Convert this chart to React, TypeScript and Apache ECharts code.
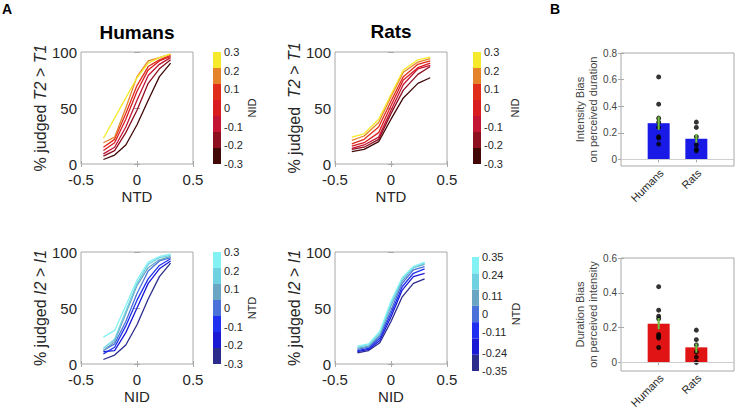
import React, { useEffect, useRef } from "react";
import * as echarts from "echarts";

// ---------- data ----------
const xHum = [-0.3, -0.2, -0.1, 0, 0.1, 0.2, 0.3];
const xRatDur = [-0.35, -0.24, -0.11, 0, 0.11, 0.24, 0.35];
const xRatInt = [-0.3, -0.2, -0.1, 0, 0.1, 0.2, 0.3];

const nidLevels = [0.3, 0.2, 0.1, 0, -0.1, -0.2, -0.3];
const ntdLevelsHum = [0.3, 0.2, 0.1, 0, -0.1, -0.2, -0.3];
const ntdLevelsRat = [0.35, 0.24, 0.11, 0, -0.11, -0.24, -0.35];

// % judged T2 > T1, humans, one row per NID level (0.3 ... -0.3)
const humDur = [
  [23, 41, 59, 77, 90, 95, 98],
  [19, 24, 50, 78, 92, 95, 98],
  [15, 22, 45, 70, 87, 93, 97],
  [12, 19, 40, 65, 84, 92, 96],
  [9, 15, 33, 57, 79, 89, 95],
  [7, 12, 28, 48, 72, 85, 93],
  [4, 8, 17, 35, 57, 78, 90],
];
// % judged T2 > T1, rats
const ratDur = [
  [24, 27, 40, 62, 84, 93, 95.5],
  [21, 25, 37, 60, 82, 91, 94],
  [18, 22, 33, 56, 78, 89, 92],
  [16, 19, 28, 52, 75, 86, 90],
  [14, 17, 24, 48, 71, 85, 88],
  [13, 15, 22, 45, 66, 80, 87],
  [11, 13, 20, 40, 59, 72, 77],
];
// % judged I2 > I1, humans, one row per NTD level
const humInt = [
  [24, 30, 52, 75, 91, 96, 98],
  [14, 22, 47, 72, 89, 95, 97],
  [12, 20, 45, 70, 86, 93, 96],
  [12, 18, 38, 63, 83, 92, 95],
  [9, 15, 34, 57, 76, 88, 94],
  [11, 12, 28, 50, 72, 85, 92],
  [4, 8, 17, 35, 58, 78, 90],
];
// % judged I2 > I1, rats
const ratInt = [
  [16, 18, 29, 56, 77, 87, 91],
  [15, 17, 28, 54, 76, 86, 90],
  [14, 16, 26, 52, 74, 86, 89],
  [13, 15, 25, 48, 72, 84, 87],
  [12, 14, 23, 45, 69, 81, 85],
  [11, 13, 21, 42, 66, 78, 81],
  [10, 12, 19, 38, 60, 72, 76],
];

const warmColors = ["#f5ea2c", "#e5832a", "#e02c1a", "#d81c20", "#c41434", "#8e1020", "#420808"];
const coolColors = ["#82f2f4", "#70d2e0", "#6aa6c4", "#4a72d8", "#1f30f0", "#1a1ad4", "#2c2c8c"];

const groups = ["Humans", "Rats"];
const groupPos = [1, 2];
// panel B top: intensity bias on perceived duration
const intBiasMean = [0.272, 0.155];
const intBiasLow = [0.222, 0.125];
const intBiasHigh = [0.322, 0.19];
const intBiasHum = [0.62, 0.415, 0.31, 0.28, 0.24, 0.17, 0.16, 0.115];
const intBiasRat = [0.28, 0.24, 0.17, 0.11, 0.075, 0.065];
// panel B bottom: duration bias on perceived intensity
const durBiasMean = [0.222, 0.086];
const durBiasLow = [0.19, 0.055];
const durBiasHigh = [0.255, 0.108];
const durBiasHum = [0.435, 0.3, 0.265, 0.25, 0.16, 0.15, 0.14, 0.085];
const durBiasRat = [0.185, 0.13, 0.1, 0.06, 0.03, 0.0];

const yTicksTop = [0, 0.2, 0.4, 0.6, 0.8];
const yTicksBottom = [0, 0.2, 0.4, 0.6];
const yMinBar = -0.05;

// ---------- styling ----------
const FONT = "'Liberation Sans', Arial, Helvetica, sans-serif";
const BOX = "#a8a8a8";
const TXT = "#262626";

export default function App() {
  const ref = useRef<HTMLDivElement>(null);

  useEffect(() => {
    if (!ref.current) return;
    const chart = echarts.init(ref.current, null, { renderer: "svg" });

    const grid: any[] = [];
    const xAxis: any[] = [];
    const yAxis: any[] = [];
    const series: any[] = [];
    const barAxes: { xi: number; yi: number }[] = [];

    const fmt = (v: number) => String(Math.round(v * 100) / 100);

    // ---- psychometric panels ----
    const addLinePanel = (
      left: number,
      top: number,
      xs: number[],
      rows: number[][],
      colors: string[],
      xName: string,
      yName: string,
      yGap: number
    ) => {
      const gi = grid.length;
      grid.push({ left, top, width: 112, height: 112, show: true, borderColor: BOX, borderWidth: 1, backgroundColor: "#fff" });
      const tick = { show: true, inside: true, length: 3, lineStyle: { color: BOX } };
      const xi = xAxis.length;
      xAxis.push({
        gridIndex: gi, type: "value", min: -0.5, max: 0.5, interval: 0.5, position: "bottom",
        axisLine: { show: false }, axisTick: tick, splitLine: { show: false },
        axisLabel: { fontSize: 15, color: TXT, fontFamily: FONT, margin: 8, formatter: fmt },
        name: xName, nameLocation: "middle", nameGap: 25,
        nameTextStyle: { fontSize: 15, color: TXT, fontFamily: FONT },
      });
      xAxis.push({
        gridIndex: gi, type: "value", min: -0.5, max: 0.5, interval: 0.5, position: "top",
        axisLine: { show: false }, axisTick: tick, splitLine: { show: false }, axisLabel: { show: false },
      });
      const yi = yAxis.length;
      yAxis.push({
        gridIndex: gi, type: "value", min: 0, max: 100, interval: 50, position: "left",
        axisLine: { show: false }, axisTick: tick, splitLine: { show: false },
        axisLabel: { fontSize: 15, color: TXT, fontFamily: FONT, margin: 4 },
        name: yName, nameLocation: "middle", nameGap: yGap, nameRotate: 90,
        nameTextStyle: {
          fontSize: 16, color: TXT, fontFamily: FONT,
          rich: { i: { fontSize: 16, fontStyle: "italic", color: TXT, fontFamily: FONT } },
        },
      });
      yAxis.push({
        gridIndex: gi, type: "value", min: 0, max: 100, interval: 50, position: "right",
        axisLine: { show: false }, axisTick: tick, splitLine: { show: false }, axisLabel: { show: false },
      });
      for (let i = rows.length - 1; i >= 0; i--) {
        series.push({
          type: "line", xAxisIndex: xi, yAxisIndex: yi, showSymbol: false, symbol: "none",
          data: xs.map((x, j) => [x, rows[i][j]]),
          lineStyle: { color: colors[i], width: 1.3 }, itemStyle: { color: colors[i] },
          silent: true,
        });
      }
    };

    // ---- colorbars ----
    const addColorbar = (
      left: number, top: number, width: number, height: number,
      levels: number[], colors: string[], name: string, nameGap: number
    ) => {
      const gi = grid.length;
      grid.push({ left, top, width, height });
      const xi = xAxis.length;
      xAxis.push({ gridIndex: gi, type: "category", data: ["c"], show: false, boundaryGap: true });
      const yHidden = yAxis.length;
      yAxis.push({ gridIndex: gi, type: "value", min: 0, max: levels.length, show: false, position: "left" });
      const lo = Math.min(...levels);
      const hi = Math.max(...levels);
      yAxis.push({
        gridIndex: gi, type: "value", min: lo, max: hi, position: "right",
        axisLine: { show: false }, axisTick: { show: false }, splitLine: { show: false },
        axisLabel: { customValues: levels, fontSize: 11, color: TXT, fontFamily: FONT, margin: 3, formatter: fmt },
        name, nameLocation: "middle", nameGap, nameRotate: 90,
        nameTextStyle: { fontSize: 11, color: TXT, fontFamily: FONT },
      });
      for (let i = levels.length - 1; i >= 0; i--) {
        series.push({
          type: "bar", xAxisIndex: xi, yAxisIndex: yHidden, stack: "cb" + gi, barWidth: "100%",
          data: [1], itemStyle: { color: colors[i] }, silent: true,
        });
      }
    };

    // ---- bar panels ----
    const addBarPanel = (
      top: number, height: number, ymax: number, ticks: number[],
      means: number[], lows: number[], highs: number[], hum: number[], rat: number[],
      color: string, yName: string
    ) => {
      const gi = grid.length;
      grid.push({ left: 621, top, width: 113, height, show: true, borderColor: BOX, borderWidth: 1 });
      const tickY = { show: true, inside: true, length: 3, lineStyle: { color: BOX }, customValues: ticks };
      const tickX = { show: true, inside: true, length: 3, lineStyle: { color: BOX }, customValues: groupPos };
      const xi = xAxis.length;
      xAxis.push({
        gridIndex: gi, type: "value", min: 0, max: 3, position: "bottom",
        axisLine: { show: false }, axisTick: tickX, splitLine: { show: false }, axisLabel: { show: false },
      });
      xAxis.push({
        gridIndex: gi, type: "value", min: 0, max: 3, position: "top",
        axisLine: { show: false }, axisTick: tickX, splitLine: { show: false }, axisLabel: { show: false },
      });
      const yi = yAxis.length;
      yAxis.push({
        gridIndex: gi, type: "value", min: yMinBar, max: ymax, position: "left",
        axisLine: { show: false }, axisTick: tickY, splitLine: { show: false },
        axisLabel: { customValues: ticks, fontSize: 10, color: "#444", fontFamily: FONT, margin: 4, formatter: fmt },
        name: yName, nameLocation: "middle", nameGap: 11, nameRotate: 90,
        nameTextStyle: { fontSize: 11, color: "#444", fontFamily: FONT, lineHeight: 13 },
      });
      yAxis.push({
        gridIndex: gi, type: "value", min: yMinBar, max: ymax, position: "right",
        axisLine: { show: false }, axisTick: tickY, splitLine: { show: false }, axisLabel: { show: false },
      });
      barAxes.push({ xi, yi });
      series.push({
        type: "bar", xAxisIndex: xi, yAxisIndex: yi, barWidth: 22,
        data: groupPos.map((p, k) => [p, means[k]]),
        itemStyle: { color }, silent: true,
        markLine: {
          silent: true, symbol: "none", label: { show: false },
          lineStyle: { color: "#cfcfcf", width: 1, type: "solid" },
          data: [{ yAxis: 0 }],
        },
      });
      [0, 1].forEach((k) => {
        series.push({
          type: "line", xAxisIndex: xi, yAxisIndex: yi, showSymbol: false, symbol: "none", silent: true,
          data: [[groupPos[k], lows[k]], [groupPos[k], highs[k]]],
          lineStyle: { color: "#6cc23a", width: 2 },
        });
      });
      series.push({
        type: "scatter", xAxisIndex: xi, yAxisIndex: yi, symbolSize: 5, silent: true,
        itemStyle: { color: "#000" },
        data: [...hum.map((v) => [groupPos[0], v]), ...rat.map((v) => [groupPos[1], v])],
      });
    };

    addLinePanel(81, 52, xHum, humDur, warmColors, "NTD", "% judged {i|T2} > {i|T1}", 33);
    addLinePanel(335, 52, xRatDur, ratDur, warmColors, "NTD", "% judged  {i|T2} > {i|T1}", 33);
    addLinePanel(81, 252, xHum, humInt, coolColors, "NID", "% judged {i|I2} > {i|I1}", 33);
    addLinePanel(335, 252, xRatInt, ratInt, coolColors, "NID", "% judged {i|I2} > {i|I1}", 33);

    addColorbar(213, 52, 8, 112, nidLevels, warmColors, "NID", 23);
    addColorbar(473, 52, 8, 112, nidLevels, warmColors, "NID", 28);
    addColorbar(213, 252, 8, 112, ntdLevelsHum, coolColors, "NTD", 22);
    addColorbar(472, 257, 7, 114, ntdLevelsRat, coolColors, "NTD", 28);

    addBarPanel(53, 113, 0.8, yTicksTop, intBiasMean, intBiasLow, intBiasHigh, intBiasHum, intBiasRat,
      "#1a1ae6", "Intensity Bias\non perceived duration");
    addBarPanel(258, 113, 0.6, yTicksBottom, durBiasMean, durBiasLow, durBiasHigh, durBiasHum, durBiasRat,
      "#e01414", "Duration Bias\non perceived intensity");

    const txt = (text: string, x: number, y: number, size: number, align = "center") => ({
      type: "text", x, y,
      style: { text, fontSize: size, fontWeight: "bold", fontFamily: FONT, fill: "#000", textAlign: align, textVerticalAlign: "middle" },
    });

    chart.setOption({
      animation: false,
      backgroundColor: "#fff",
      grid, xAxis, yAxis, series,
    });

    // rotated category labels placed through the axes' own scales
    const catLabels: any[] = [];
    barAxes.forEach(({ xi, yi }) => {
      groupPos.forEach((p, k) => {
        const pt = chart.convertToPixel({ xAxisIndex: xi, yAxisIndex: yi }, [p, yMinBar]) as number[];
        catLabels.push({
          type: "text", x: pt[0] + 3, y: pt[1] + 5, rotation: Math.PI / 4,
          style: {
            text: groups[k], fontSize: 11, fontFamily: FONT, fill: TXT,
            textAlign: "right", textVerticalAlign: "middle",
          },
        });
      });
    });

    chart.setOption({
      graphic: [
        txt("A", 2, 9, 14, "left"),
        txt("B", 550, 9, 14, "left"),
        txt("Humans", 137, 32, 19),
        txt("Rats", 391, 31, 19),
        ...catLabels,
      ],
    });

    return () => chart.dispose();
  }, []);

  return <div ref={ref} style={{ position: "absolute", left: 0, top: 0, width: 736, height: 412 }} />;
}
